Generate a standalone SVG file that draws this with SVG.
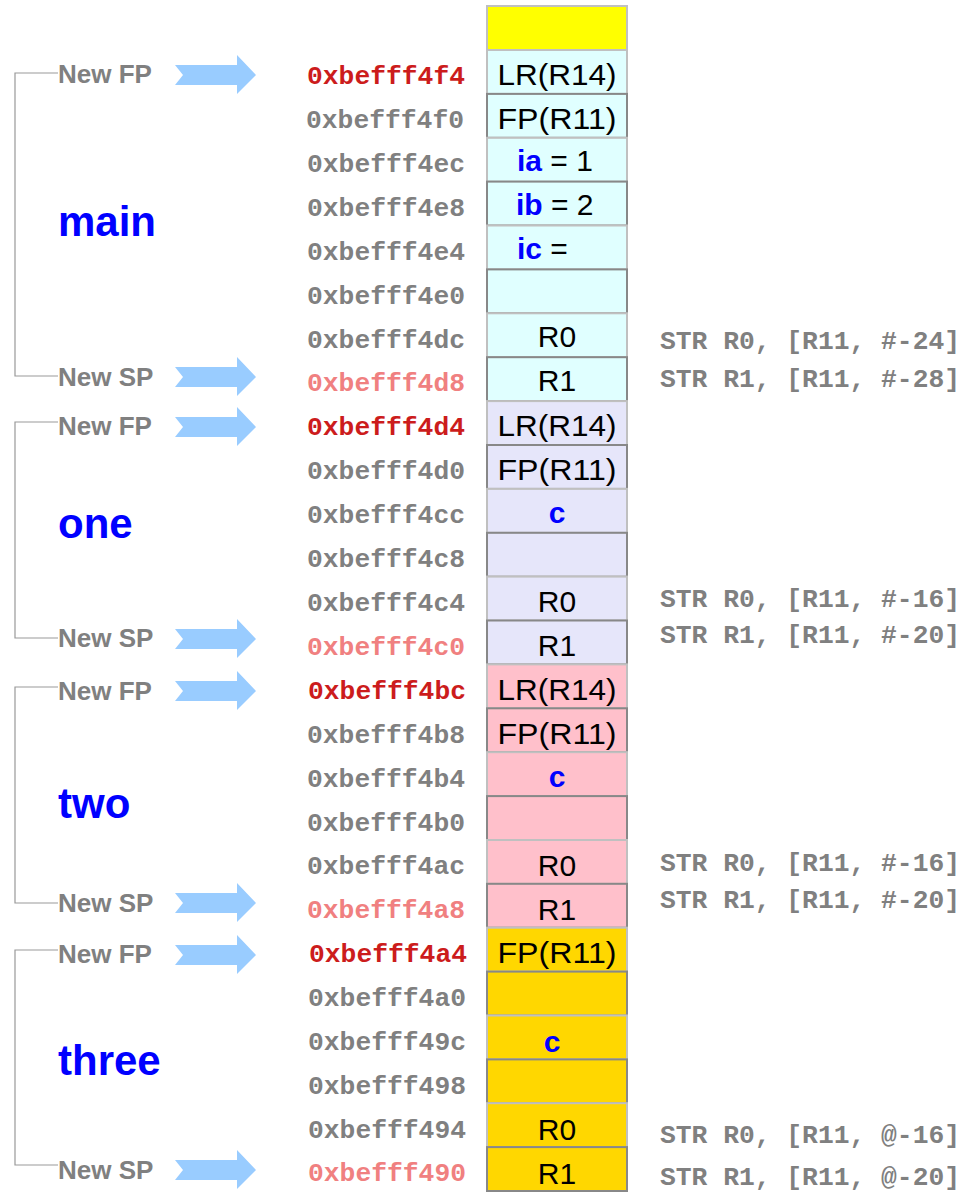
<svg xmlns="http://www.w3.org/2000/svg" width="971" height="1192" viewBox="0 0 971 1192">
<style>
.addr{font-family:"Liberation Mono",monospace;font-weight:bold;font-size:25px;fill:#808080}
.fp{fill:#cc1c1c}
.sp{fill:#f08080}
.str{font-family:"Liberation Mono",monospace;font-weight:bold;font-size:25px;fill:#808080}
.lbl{font-family:"Liberation Sans",Arial,sans-serif;font-weight:bold;font-size:26px;fill:#808080}
.fn{font-family:"Liberation Sans",Arial,sans-serif;font-weight:bold;font-size:42px;fill:#0000ff}
.cell{font-family:"Liberation Sans",Arial,sans-serif;font-size:30px;fill:#000;text-anchor:middle}
.var{font-weight:bold;fill:#0000ff}
.lt{stroke:#c0c0c0;stroke-width:2}
.dk{stroke:#888888;stroke-width:2}
.br{fill:none;stroke:#999999;stroke-width:1.2}
.arr{fill:#99ccff}
</style>
<defs>
<polygon id="arrow" points="175,-10 237,-10 237,-20 256,0 237,19 237,10 175,10 183,0"/>
</defs>

<g id="stack-top"><rect x="487" y="6" width="140" height="44" fill="#ffff00" class="lt"/></g>

<g id="main-frame">
<rect x="487" y="50" width="140" height="43.9" fill="#e0ffff" class="lt"/>
<rect x="487" y="93.9" width="140" height="43.9" fill="#e0ffff" class="dk"/>
<rect x="487" y="137.8" width="140" height="43.9" fill="#e0ffff" class="lt"/>
<rect x="487" y="181.6" width="140" height="43.9" fill="#e0ffff" class="dk"/>
<rect x="487" y="225.5" width="140" height="43.9" fill="#e0ffff" class="lt"/>
<rect x="487" y="269.4" width="140" height="43.9" fill="#e0ffff" class="dk"/>
<rect x="487" y="313.3" width="140" height="43.9" fill="#e0ffff" class="lt"/>
<rect x="487" y="357.2" width="140" height="43.9" fill="#e0ffff" class="dk"/>
<text class="cell" x="557" y="85" textLength="119" lengthAdjust="spacingAndGlyphs">LR(R14)</text>
<text class="cell" x="557" y="129" textLength="119" lengthAdjust="spacingAndGlyphs">FP(R11)</text>
<text class="cell" x="517" y="171" style="text-anchor:start"><tspan class="var">ia</tspan> = 1</text>
<text class="cell" x="516" y="215" style="text-anchor:start"><tspan class="var">ib</tspan> = 2</text>
<text class="cell" x="517" y="259" style="text-anchor:start"><tspan class="var">ic</tspan> =</text>
<text class="cell" x="557" y="347">R0</text>
<text class="cell" x="557" y="391">R1</text>
<text class="fn" x="58" y="236">main</text>
</g>

<g id="one-frame">
<rect x="487" y="401.1" width="140" height="43.9" fill="#e6e6fa" class="lt"/>
<rect x="487" y="445" width="140" height="43.9" fill="#e6e6fa" class="dk"/>
<rect x="487" y="488.9" width="140" height="43.9" fill="#e6e6fa" class="lt"/>
<rect x="487" y="532.8" width="140" height="43.9" fill="#e6e6fa" class="dk"/>
<rect x="487" y="576.6" width="140" height="43.9" fill="#e6e6fa" class="lt"/>
<rect x="487" y="620.5" width="140" height="43.9" fill="#e6e6fa" class="dk"/>
<text class="cell" x="557" y="436" textLength="119" lengthAdjust="spacingAndGlyphs">LR(R14)</text>
<text class="cell" x="557" y="480" textLength="119" lengthAdjust="spacingAndGlyphs">FP(R11)</text>
<text class="cell var" x="557" y="523">c</text>
<text class="cell" x="557" y="612">R0</text>
<text class="cell" x="557" y="656">R1</text>
<text class="fn" x="58" y="538">one</text>
</g>

<g id="two-frame">
<rect x="487" y="664.4" width="140" height="43.9" fill="#ffc0cb" class="lt"/>
<rect x="487" y="708.3" width="140" height="43.9" fill="#ffc0cb" class="dk"/>
<rect x="487" y="752.2" width="140" height="43.9" fill="#ffc0cb" class="lt"/>
<rect x="487" y="796.1" width="140" height="43.9" fill="#ffc0cb" class="dk"/>
<rect x="487" y="840" width="140" height="43.9" fill="#ffc0cb" class="lt"/>
<rect x="487" y="883.8" width="140" height="43.9" fill="#ffc0cb" class="dk"/>
<text class="cell" x="557" y="700" textLength="119" lengthAdjust="spacingAndGlyphs">LR(R14)</text>
<text class="cell" x="557" y="744" textLength="119" lengthAdjust="spacingAndGlyphs">FP(R11)</text>
<text class="cell var" x="557" y="787">c</text>
<text class="cell" x="557" y="876">R0</text>
<text class="cell" x="557" y="920">R1</text>
<text class="fn" x="58" y="818">two</text>
</g>

<g id="three-frame">
<rect x="487" y="927.7" width="140" height="43.9" fill="#ffd700" class="lt"/>
<rect x="487" y="971.6" width="140" height="43.9" fill="#ffd700" class="dk"/>
<rect x="487" y="1015.5" width="140" height="43.9" fill="#ffd700" class="lt"/>
<rect x="487" y="1059.4" width="140" height="43.9" fill="#ffd700" class="dk"/>
<rect x="487" y="1103.2" width="140" height="43.9" fill="#ffd700" class="lt"/>
<rect x="487" y="1147.1" width="140" height="43.9" fill="#ffd700" class="dk"/>
<text class="cell" x="557" y="963" textLength="119" lengthAdjust="spacingAndGlyphs">FP(R11)</text>
<text class="cell var" x="552" y="1052">c</text>
<text class="cell" x="557" y="1140">R0</text>
<text class="cell" x="557" y="1184">R1</text>
<text class="fn" x="58" y="1075">three</text>
</g>

<g id="addresses">
<text class="addr fp" x="307" y="84" textLength="158" lengthAdjust="spacingAndGlyphs">0xbefff4f4</text>
<text class="addr" x="306" y="128" textLength="158" lengthAdjust="spacingAndGlyphs">0xbefff4f0</text>
<text class="addr" x="307" y="172" textLength="158" lengthAdjust="spacingAndGlyphs">0xbefff4ec</text>
<text class="addr" x="307" y="216" textLength="158" lengthAdjust="spacingAndGlyphs">0xbefff4e8</text>
<text class="addr" x="307" y="260" textLength="158" lengthAdjust="spacingAndGlyphs">0xbefff4e4</text>
<text class="addr" x="307" y="304" textLength="158" lengthAdjust="spacingAndGlyphs">0xbefff4e0</text>
<text class="addr" x="307" y="348" textLength="158" lengthAdjust="spacingAndGlyphs">0xbefff4dc</text>
<text class="addr sp" x="307" y="391" textLength="158" lengthAdjust="spacingAndGlyphs">0xbefff4d8</text>
<text class="addr fp" x="307" y="435" textLength="158" lengthAdjust="spacingAndGlyphs">0xbefff4d4</text>
<text class="addr" x="307" y="479" textLength="158" lengthAdjust="spacingAndGlyphs">0xbefff4d0</text>
<text class="addr" x="307" y="523" textLength="158" lengthAdjust="spacingAndGlyphs">0xbefff4cc</text>
<text class="addr" x="307" y="567" textLength="158" lengthAdjust="spacingAndGlyphs">0xbefff4c8</text>
<text class="addr" x="307" y="611" textLength="158" lengthAdjust="spacingAndGlyphs">0xbefff4c4</text>
<text class="addr sp" x="307" y="655" textLength="158" lengthAdjust="spacingAndGlyphs">0xbefff4c0</text>
<text class="addr fp" x="308" y="699" textLength="158" lengthAdjust="spacingAndGlyphs">0xbefff4bc</text>
<text class="addr" x="307" y="743" textLength="158" lengthAdjust="spacingAndGlyphs">0xbefff4b8</text>
<text class="addr" x="307" y="787" textLength="158" lengthAdjust="spacingAndGlyphs">0xbefff4b4</text>
<text class="addr" x="307" y="831" textLength="158" lengthAdjust="spacingAndGlyphs">0xbefff4b0</text>
<text class="addr" x="307" y="874" textLength="158" lengthAdjust="spacingAndGlyphs">0xbefff4ac</text>
<text class="addr sp" x="307" y="918" textLength="158" lengthAdjust="spacingAndGlyphs">0xbefff4a8</text>
<text class="addr fp" x="309" y="962" textLength="158" lengthAdjust="spacingAndGlyphs">0xbefff4a4</text>
<text class="addr" x="308" y="1006" textLength="158" lengthAdjust="spacingAndGlyphs">0xbefff4a0</text>
<text class="addr" x="308" y="1050" textLength="158" lengthAdjust="spacingAndGlyphs">0xbefff49c</text>
<text class="addr" x="308" y="1094" textLength="158" lengthAdjust="spacingAndGlyphs">0xbefff498</text>
<text class="addr" x="308" y="1138" textLength="158" lengthAdjust="spacingAndGlyphs">0xbefff494</text>
<text class="addr sp" x="308" y="1181" textLength="158" lengthAdjust="spacingAndGlyphs">0xbefff490</text>
</g>

<g id="instructions">
<text class="str" x="660" y="349" textLength="300" lengthAdjust="spacingAndGlyphs">STR R0, [R11, #-24]</text>
<text class="str" x="660" y="387" textLength="300" lengthAdjust="spacingAndGlyphs">STR R1, [R11, #-28]</text>
<text class="str" x="660" y="607" textLength="300" lengthAdjust="spacingAndGlyphs">STR R0, [R11, #-16]</text>
<text class="str" x="660" y="643" textLength="300" lengthAdjust="spacingAndGlyphs">STR R1, [R11, #-20]</text>
<text class="str" x="660" y="871" textLength="300" lengthAdjust="spacingAndGlyphs">STR R0, [R11, #-16]</text>
<text class="str" x="660" y="908" textLength="300" lengthAdjust="spacingAndGlyphs">STR R1, [R11, #-20]</text>
<text class="str" x="660" y="1143" textLength="300" lengthAdjust="spacingAndGlyphs">STR R0, [R11, @-16]</text>
<text class="str" x="660" y="1185" textLength="300" lengthAdjust="spacingAndGlyphs">STR R1, [R11, @-20]</text>
</g>

<g id="pointer-labels">
<text class="lbl" x="58" y="83">New FP</text>
<text class="lbl" x="58" y="386">New SP</text>
<text class="lbl" x="58" y="435">New FP</text>
<text class="lbl" x="58" y="647">New SP</text>
<text class="lbl" x="58" y="700">New FP</text>
<text class="lbl" x="58" y="912">New SP</text>
<text class="lbl" x="58" y="963">New FP</text>
<text class="lbl" x="58" y="1179">New SP</text>
</g>

<g id="connectors">
<polyline class="br" points="58,73 15,73 15,376 58,376"/>
<polyline class="br" points="58,422 15,422 15,638 58,638"/>
<polyline class="br" points="58,687 15,687 15,903 58,903"/>
<polyline class="br" points="58,950 15,950 15,1165 58,1165"/>
<use href="#arrow" class="arr" x="0" y="75"/>
<use href="#arrow" class="arr" x="0" y="377"/>
<use href="#arrow" class="arr" x="0" y="427"/>
<use href="#arrow" class="arr" x="0" y="639"/>
<use href="#arrow" class="arr" x="0" y="691"/>
<use href="#arrow" class="arr" x="0" y="903"/>
<use href="#arrow" class="arr" x="0" y="955"/>
<use href="#arrow" class="arr" x="0" y="1170"/>
</g>
</svg>
